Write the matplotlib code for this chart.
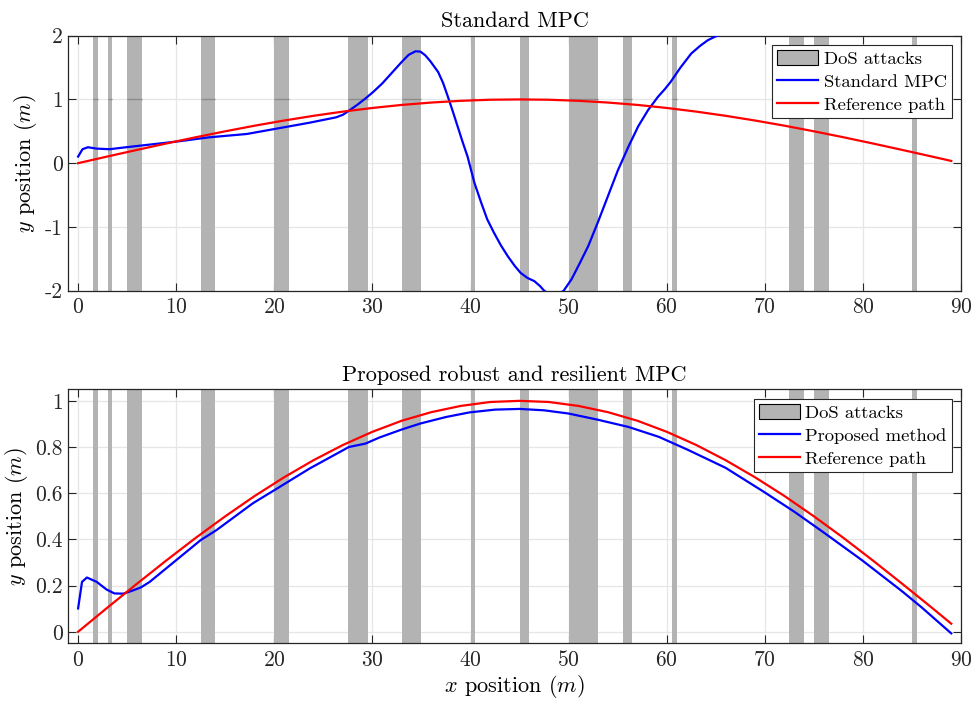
import matplotlib
matplotlib.use("Agg")
import matplotlib.pyplot as plt
from matplotlib.lines import Line2D
from matplotlib.patches import Patch

plt.rcParams["font.family"] = "serif"
plt.rcParams["font.serif"] = ["cmr10", "DejaVu Serif"]
plt.rcParams["mathtext.fontset"] = "cm"
plt.rcParams["axes.unicode_minus"] = False
plt.rcParams["axes.formatter.use_mathtext"] = True

# DoS attack intervals [start, end] along x (m)
dos_start = [1.5, 3.0, 5.0, 12.5, 20.0, 27.5, 33.0, 40.0, 45.0, 50.0, 55.5, 60.5, 72.5, 75.0, 85.0]
dos_end = [2.0, 3.5, 6.5, 14.0, 21.5, 29.5, 35.0, 40.5, 46.0, 53.0, 56.5, 61.0, 74.0, 76.5, 85.5]

# reference path
ref_x = [0, 3, 6, 9, 12, 15, 18, 21, 24, 27, 30, 33, 36, 39, 42, 45,
         48, 51, 54, 57, 60, 63, 66, 69, 72, 75, 78, 81, 84, 87, 89]
ref_y = [0.0, 0.105, 0.208, 0.309, 0.407, 0.5, 0.588, 0.669, 0.743, 0.809, 0.866,
         0.914, 0.951, 0.978, 0.995, 1.0, 0.995, 0.978, 0.951, 0.914, 0.866,
         0.809, 0.743, 0.669, 0.588, 0.5, 0.407, 0.309, 0.208, 0.105, 0.035]

# standard MPC trajectory
std_x = [0, 0.45, 1.0, 1.9, 3.2, 4.9, 10, 13.4, 17.2, 20.2, 23.6, 26.3, 27.0, 27.7,
         28.5, 29.3, 30.1, 31.0, 32.0, 33.0, 33.7, 34.4, 34.9, 35.4, 35.9, 36.7,
         37.2, 37.7, 38.2, 38.7, 39.2, 39.7, 40.4, 41.1, 41.7, 42.4, 43.1, 43.8,
         44.5, 45.1, 45.8, 46.5, 47.1, 47.5, 48.5, 49.5, 50.3, 51.1, 52.0, 53.0,
         54.0, 55.0, 56.1, 57.1, 58.1, 59.1, 59.8, 60.4, 61.4, 62.5, 63.4, 64.2,
         65.0, 66.0]
std_y = [0.103, 0.219, 0.25, 0.228, 0.219, 0.25, 0.338, 0.406, 0.458, 0.541, 0.635,
         0.719, 0.76, 0.833, 0.92, 1.016, 1.12, 1.25, 1.42, 1.59, 1.70, 1.755,
         1.75, 1.69, 1.60, 1.43, 1.26, 1.04, 0.81, 0.57, 0.33, 0.103, -0.31, -0.625,
         -0.88, -1.094, -1.29, -1.46, -1.61, -1.72, -1.80, -1.85, -1.93, -2.0, -2.1,
         -2.0, -1.82, -1.58, -1.30, -0.92, -0.52, -0.12, 0.26, 0.58, 0.833, 1.04,
         1.16, 1.275, 1.50, 1.72, 1.84, 1.93, 1.99, 2.05]

# proposed robust and resilient MPC trajectory
prop_x = [0, 0.4, 0.9, 1.9, 2.9, 3.7, 4.6, 5.4, 6.4, 7.3, 10, 12.5, 14.1, 17.8, 20,
          23.6, 27.6, 29.3, 30.7, 33, 34.9, 37.5, 39.9, 42.5, 45, 47.5, 50, 52.9,
          56.1, 59.2, 62.2, 66, 69.9, 73, 76, 79.9, 84, 86, 89]
prop_y = [0.101, 0.216, 0.235, 0.216, 0.183, 0.166, 0.165, 0.176, 0.192, 0.216,
          0.31, 0.397, 0.44, 0.556, 0.613, 0.707, 0.80, 0.815, 0.841, 0.876, 0.902,
          0.93, 0.95, 0.962, 0.965, 0.959, 0.945, 0.919, 0.887, 0.844, 0.787, 0.71,
          0.606, 0.52, 0.43, 0.31, 0.175, 0.105, -0.007]

x_ticks = [0, 10, 20, 30, 40, 50, 60, 70, 80, 90]
top_y_ticks = [-2, -1, 0, 1, 2]
top_y_labels = ["-2", "-1", "0", "1", "2"]
bot_y_ticks = [0, 0.2, 0.4, 0.6, 0.8, 1.0]
bot_y_labels = ["0", "0.2", "0.4", "0.6", "0.8", "1"]

DOS_GRAY = "#b3b3b3"
AX_COLOR = "#262626"


def style_axes(ax, yticks, ylabels, ylim):
    ax.set_xlim(-1, 90)
    ax.set_ylim(*ylim)
    ax.set_xticks(x_ticks)
    ax.set_yticks(yticks)
    ax.set_yticklabels(ylabels)
    ax.set_axisbelow(True)
    ax.grid(True, color="#e6e6e6", linewidth=0.9)
    ax.tick_params(direction="in", top=True, right=True, length=5.5, width=0.8,
                   color=AX_COLOR, labelsize=15.5, labelcolor="#262626")
    ax.tick_params(axis="x", pad=5)
    ax.tick_params(axis="y", pad=4)
    for sp in ax.spines.values():
        sp.set_color(AX_COLOR)
        sp.set_linewidth(0.9)
    ax.set_ylabel(r"$y$ position $(m)$", fontsize=16, labelpad=4)


def draw_dos(ax, edge_y=None):
    for s, e in zip(dos_start, dos_end):
        ax.axvspan(s, e, color=DOS_GRAY, linewidth=0, zorder=0.7)
    if edge_y is not None:
        ax.hlines([edge_y] * len(dos_start), dos_start, dos_end,
                  color="#8c8c8c", linewidth=1.0, zorder=0.8)


def add_legend(ax, label):
    handles = [
        Patch(facecolor=DOS_GRAY, edgecolor="black", linewidth=0.8),
        Line2D([], [], color="blue", linewidth=1.6),
        Line2D([], [], color="red", linewidth=1.6),
    ]
    leg = ax.legend(handles, ["DoS attacks", label, "Reference path"],
                    loc="upper right", fontsize=13.4, fancybox=False,
                    framealpha=1, edgecolor=AX_COLOR, borderaxespad=0.5,
                    handlelength=2.2, handleheight=0.85, handletextpad=0.3,
                    labelspacing=0.33, borderpad=0.28)
    leg.get_frame().set_linewidth(0.8)


fig = plt.figure(figsize=(9.74, 7.05), dpi=100)

ax1 = fig.add_axes([0.0701, 0.5877, 0.9166, 0.3617])
draw_dos(ax1, edge_y=1)
ax1.plot(std_x, std_y, color="blue", linewidth=1.6, zorder=3)
ax1.plot(ref_x, ref_y, color="red", linewidth=1.6, zorder=3)
style_axes(ax1, top_y_ticks, top_y_labels, (-2, 2))
ax1.set_title("Standard MPC", fontsize=16, pad=6)
add_legend(ax1, "Standard MPC")

ax2 = fig.add_axes([0.0701, 0.0875, 0.9166, 0.3603])
draw_dos(ax2)
ax2.plot(prop_x, prop_y, color="blue", linewidth=1.6, zorder=3)
ax2.plot(ref_x, ref_y, color="red", linewidth=1.6, zorder=3)
style_axes(ax2, bot_y_ticks, bot_y_labels, (-0.05, 1.05))
ax2.set_title("Proposed robust and resilient MPC", fontsize=16, pad=6)
ax2.set_xlabel(r"$x$ position $(m)$", fontsize=16, labelpad=2)
add_legend(ax2, "Proposed method")

fig.savefig("out.png", dpi=100)
